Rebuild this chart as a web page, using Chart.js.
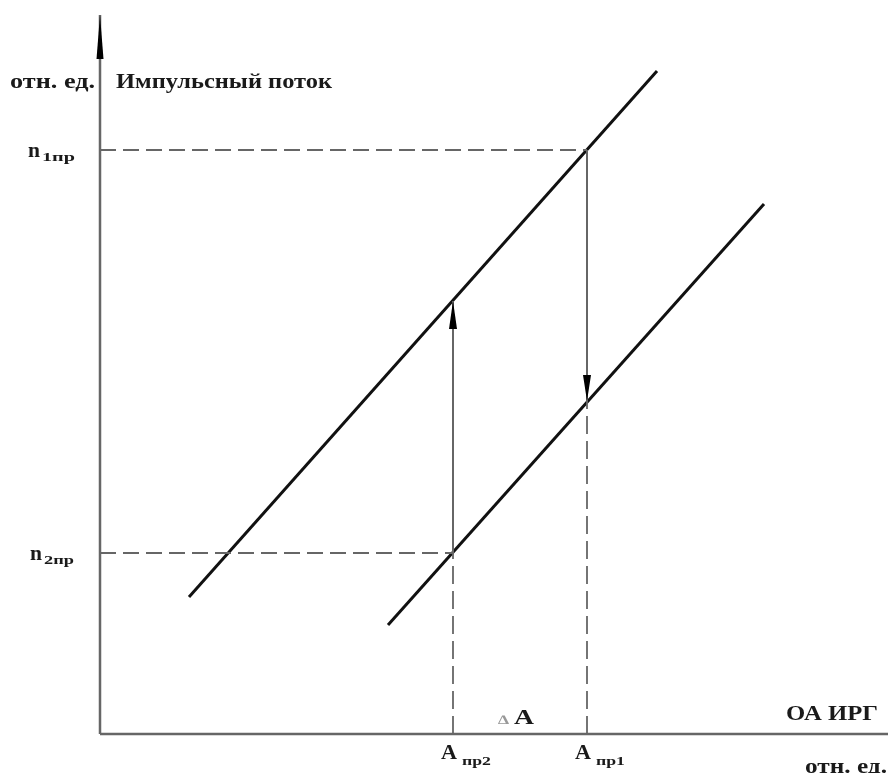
<!DOCTYPE html>
<html>
<head>
<meta charset="utf-8">
<script src="https://cdn.jsdelivr.net/npm/chart.js@4.4.0/dist/chart.umd.min.js"></script>
<style>
  body { margin: 0; background: #fff; }
  canvas { display: block; }
</style>
</head>
<body>
<canvas id="chart" width="890" height="773"></canvas>
<script>
// Values in relative units (origin = axes crossing)
const upperLineX = [89, 557];
const upperLineY = [137, 663];
const lowerLineX = [288, 664];
const lowerLineY = [109, 530];
const thresholdA = [353, 487];      // A_пр2, A_пр1
const thresholdN = [181, 584];      // n_2пр, n_1пр
const crossUpper = 433;             // upper line at A_пр2
const crossLower = 333;             // lower line at A_пр1
const axisXEnd = 788;
const axisYEnd = 719;

const labelsA = ['пр2', 'пр1'];
const labelsN = ['2пр', '1пр'];

const FONT = '"Liberation Serif", "DejaVu Serif", serif';
const GREY = '#666';

function seg(x0, y0, x1, y1) {
    return [{ x: x0, y: y0 }, { x: x1, y: y1 }];
}

function lineSet(data, color, width, dash) {
    return {
        data: data,
        showLine: true,
        borderColor: color,
        borderWidth: width,
        borderDash: dash || [],
        pointRadius: 0,
        fill: false
    };
}

let datasets = [
    // axes
    lineSet(seg(0, 0, 0, axisYEnd), GREY, 2.5),
    lineSet(seg(0, 0, axisXEnd, 0), GREY, 2.5),
    // dashed helpers
    lineSet(seg(0, thresholdN[1], thresholdA[1], thresholdN[1]), GREY, 1.8, [16, 7]),
    lineSet(seg(0, thresholdN[0], thresholdA[0], thresholdN[0]), GREY, 1.8, [16, 7]),
    lineSet(seg(thresholdA[0], 0, thresholdA[0], thresholdN[0]), GREY, 1.8, [18, 7]),
    lineSet(seg(thresholdA[1], 0, thresholdA[1], crossLower), GREY, 1.8, [18, 7]),
    // transitions
    lineSet(seg(thresholdA[0], thresholdN[0], thresholdA[0], crossUpper), GREY, 2),
    lineSet(seg(thresholdA[1], thresholdN[1], thresholdA[1], crossLower), GREY, 2),
    // characteristics
    lineSet(seg(upperLineX[0], upperLineY[0], upperLineX[1], upperLineY[1]), '#111', 3),
    lineSet(seg(lowerLineX[0], lowerLineY[0], lowerLineX[1], lowerLineY[1]), '#111', 3)
];

function arrowHead(ctx, tipX, tipY, dirX, dirY, len, half) {
    let bx = tipX - dirX * len, by = tipY - dirY * len;
    ctx.beginPath();
    ctx.moveTo(tipX, tipY);
    ctx.lineTo(bx - dirY * half, by + dirX * half);
    ctx.lineTo(bx + dirY * half, by - dirX * half);
    ctx.closePath();
    ctx.fill();
}

// draw text squeezed/stretched to a given width
function fitText(ctx, str, x, baseline, size, width, color) {
    ctx.save();
    ctx.font = 'bold ' + size + 'px ' + FONT;
    ctx.fillStyle = color || '#1a1a1a';
    ctx.textBaseline = 'alphabetic';
    let w = ctx.measureText(str).width;
    ctx.translate(x, baseline);
    ctx.scale(width / w, 1);
    ctx.fillText(str, 0, 0);
    ctx.restore();
}

const decorations = {
    id: 'decorations',
    afterDatasetsDraw(chart) {
        const ctx = chart.ctx;
        const xs = chart.scales.x, ys = chart.scales.y;
        const px = v => xs.getPixelForValue(v);
        const py = v => ys.getPixelForValue(v);
        ctx.save();
        ctx.fillStyle = '#000';
        // axis arrows
        arrowHead(ctx, px(0), py(axisYEnd), 0, -1, 44, 3.5);
        arrowHead(ctx, px(axisXEnd) + 98, py(0), 1, 0, 36, 3.5);
        // transition arrows
        arrowHead(ctx, px(thresholdA[0]), py(crossUpper), 0, -1, 28, 4);
        arrowHead(ctx, px(thresholdA[1]), py(crossLower), 0, 1, 26, 4);
        ctx.restore();

        // axis titles
        fitText(ctx, 'отн. ед.', 10, 88, 20, 85);
        fitText(ctx, 'Импульсный поток', 116, 88, 20, 216);
        fitText(ctx, 'ОА ИРГ', 786, 720, 20, 92);
        fitText(ctx, 'отн. ед.', 805, 773, 20, 82);

        // level labels n
        for (let i = 0; i < thresholdN.length; i++) {
            let y = py(thresholdN[i]);
            let x0 = i === 1 ? 28 : 30;
            fitText(ctx, 'n', x0, y + 7, 21, 12);
            fitText(ctx, labelsN[i], x0 + 14, y + 11, 12, i === 1 ? 33 : 30);
        }
        // threshold labels A
        for (let i = 0; i < thresholdA.length; i++) {
            let x = px(thresholdA[i]);
            fitText(ctx, 'A', x - 12, py(0) + 25, 20, 16);
            fitText(ctx, labelsA[i], x + 9, py(0) + 31, 12, 29);
        }
        // delta A
        fitText(ctx, '∆', 498, 724, 13, 11, '#999');
        fitText(ctx, 'A', 514, 724, 20, 20);
    }
};

new Chart(document.getElementById('chart'), {
    type: 'scatter',
    data: { datasets: datasets },
    options: {
        responsive: false,
        animation: false,
        layout: { padding: 0 },
        plugins: { legend: { display: false }, tooltip: { enabled: false } },
        scales: {
            x: { type: 'linear', display: false, min: -100, max: 790 },
            y: { type: 'linear', display: false, min: -39, max: 734 }
        }
    },
    plugins: [decorations]
});
</script>
</body>
</html>
